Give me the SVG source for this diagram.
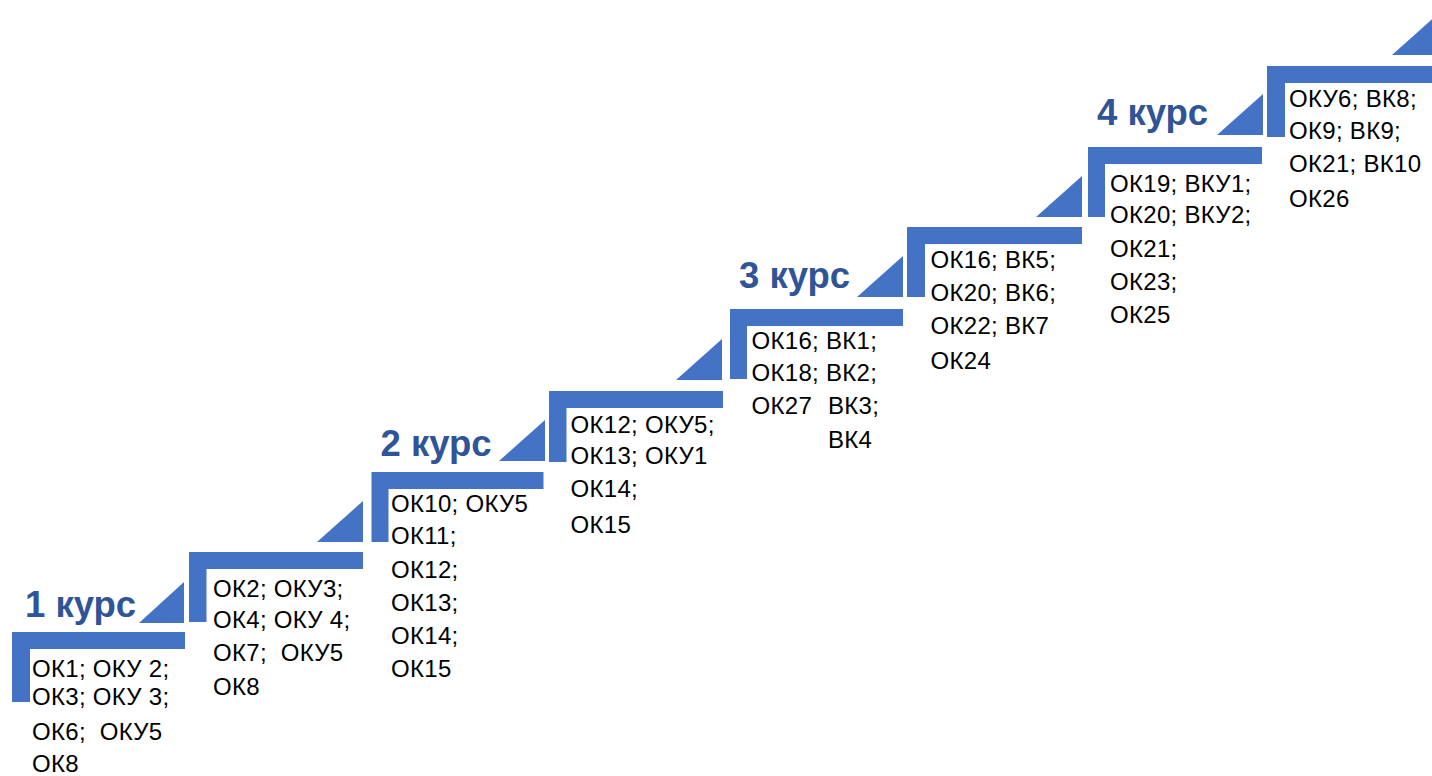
<svg xmlns="http://www.w3.org/2000/svg" width="1432" height="776" viewBox="0 0 1432 776">
<style>
.shape{fill:#4472C4}
.t{font-family:"Liberation Sans",Arial,sans-serif;font-size:24px;letter-spacing:0.3px;fill:#000;white-space:pre}
.title{font-family:"Liberation Sans",Arial,sans-serif;font-size:36.5px;font-weight:bold;fill:#2F5597}
</style>
<rect width="1432" height="776" fill="#fff"/>
<g id="step1">
<path class="shape" d="M12,632 H185 V649 H30 V702 H12 Z"/>
<polygon class="shape" points="139,623 184,582 184,623"/>
<text class="title" x="25" y="617">1 курс</text>
<text class="t" x="32" y="677">ОК1; ОКУ 2;</text>
<text class="t" x="32" y="705">ОК3; ОКУ 3;</text>
<text class="t" x="32" y="739.5">ОК6;  ОКУ5</text>
<text class="t" x="32" y="772">ОК8</text>
</g>
<g id="step2">
<path class="shape" d="M189,552 H363 V569 H206.5 V622 H189 Z"/>
<polygon class="shape" points="317,542 363,501 363,542"/>
<text class="t" x="213" y="596.5">ОК2; ОКУ3;</text>
<text class="t" x="213" y="628">ОК4; ОКУ 4;</text>
<text class="t" x="213" y="661">ОК7;  ОКУ5</text>
<text class="t" x="213" y="694.5">ОК8</text>
</g>
<g id="step3">
<path class="shape" d="M371.5,472 H543.5 V489 H388.5 V542 H371.5 Z"/>
<polygon class="shape" points="499,461 545,420 545,461"/>
<text class="title" x="380.5" y="456">2 курс</text>
<text class="t" x="391" y="511.5">ОК10; ОКУ5</text>
<text class="t" x="391" y="544">ОК11;</text>
<text class="t" x="391" y="577.5">ОК12;</text>
<text class="t" x="391" y="611">ОК13;</text>
<text class="t" x="391" y="643.5">ОК14;</text>
<text class="t" x="391" y="676.5">ОК15</text>
</g>
<g id="step4">
<path class="shape" d="M549,391 H723 V408 H566.5 V462 H549 Z"/>
<polygon class="shape" points="676,380 722,339 722,380"/>
<text class="t" x="570.5" y="433">ОК12; ОКУ5;</text>
<text class="t" x="570.5" y="463.5">ОК13; ОКУ1</text>
<text class="t" x="570.5" y="497">ОК14;</text>
<text class="t" x="570.5" y="533">ОК15</text>
</g>
<g id="step5">
<path class="shape" d="M730,309 H903 V326 H747 V379 H730 Z"/>
<polygon class="shape" points="857,297 903,256 903,297"/>
<text class="title" x="739" y="288">3 курс</text>
<text class="t" x="751.5" y="348.5">ОК16; ВК1;</text>
<text class="t" x="751.5" y="380.5">ОК18; ВК2;</text>
<text class="t" x="751.5" y="414">ОК27<tspan x="828">ВК3;</tspan></text>
<text class="t" x="828" y="448">ВК4</text>
</g>
<g id="step6">
<path class="shape" d="M907,227 H1082 V244 H925 V297 H907 Z"/>
<polygon class="shape" points="1036,217 1082,176 1082,217"/>
<text class="t" x="930.5" y="268">ОК16; ВК5;</text>
<text class="t" x="930.5" y="300.5">ОК20; ВК6;</text>
<text class="t" x="930.5" y="334">ОК22; ВК7</text>
<text class="t" x="930.5" y="368.5">ОК24</text>
</g>
<g id="step7">
<path class="shape" d="M1088,147 H1262 V164 H1105 V217 H1088 Z"/>
<polygon class="shape" points="1217,135 1263,94 1263,135"/>
<text class="title" x="1097" y="124.5">4 курс</text>
<text class="t" x="1110" y="191.5">ОК19; ВКУ1;</text>
<text class="t" x="1110" y="223">ОК20; ВКУ2;</text>
<text class="t" x="1110" y="256.5">ОК21;</text>
<text class="t" x="1110" y="290">ОК23;</text>
<text class="t" x="1110" y="322.5">ОК25</text>
</g>
<g id="step8">
<path class="shape" d="M1267,66 H1440 V83 H1285 V137 H1267 Z"/>
<polygon class="shape" points="1392,55 1438,14 1438,55"/>
<text class="t" x="1289" y="106.5">ОКУ6; ВК8;</text>
<text class="t" x="1289" y="138.5">ОК9; ВК9;</text>
<text class="t" x="1289" y="172">ОК21; ВК10</text>
<text class="t" x="1289" y="206.5">ОК26</text>
</g>
</svg>
